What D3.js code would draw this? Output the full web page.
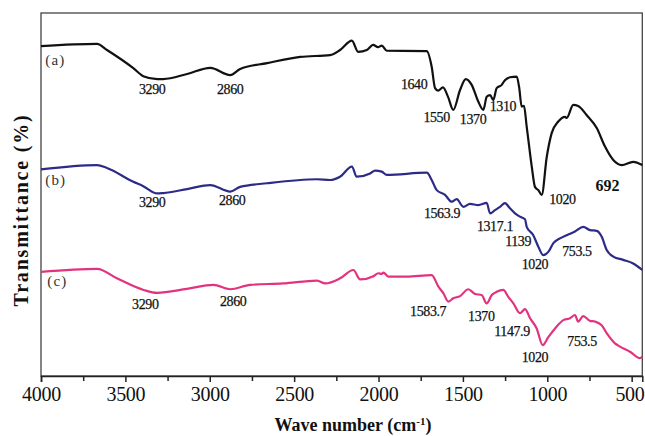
<!DOCTYPE html>
<html>
<head>
<meta charset="utf-8">
<script src="https://cdn.jsdelivr.net/npm/d3@7"></script>
<style>
  body { margin: 0; background: #fff; }
  svg { display: block; }
  .peak { font-family: "Liberation Serif", "Times New Roman", serif; font-size: 14px; fill: #111; stroke: #111; stroke-width: 0.25px; }
</style>
</head>
<body>
<svg id="chart"></svg>
<script>
// ---------------------------------
// 1) Data (read off the figure)
// ---------------------------------
const xTicks = [4000, 3500, 3000, 2500, 2000, 1500, 1000, 500];
const xMinorTicks = [3750, 3250, 2750, 2250, 1750, 1250, 750];

// wave numbers (cm-1) and transmittance (arbitrary offset, %)
const waveA = [4000, 3668, 3609, 3453, 3394, 3311, 3276, 3134, 2997, 2879, 2820, 2660, 2464, 2287, 2228, 2158, 2121, 2069, 2032, 2003, 1981, 1951, 1714, 1685, 1665, 1647, 1618, 1588, 1557, 1517, 1483, 1448, 1409, 1379, 1359, 1339, 1320, 1300, 1270, 1251, 1221, 1181, 1166, 1152, 1138, 1122, 1092, 1073, 1053, 1033, 1003, 974, 935, 895, 885, 846, 817, 767, 707, 658, 609, 559, 491, 437];
const transA = [90.9, 91.5, 89.8, 84.8, 82.6, 81.8, 81.8, 83.2, 84.9, 82.9, 84.6, 86.2, 87.9, 88.4, 89.8, 92.4, 89.3, 89.8, 91.2, 90.6, 91.0, 89.6, 89.5, 85.2, 79.3, 78.6, 79.5, 76.9, 73.3, 78.8, 81.8, 80.2, 75.6, 73.3, 76.9, 77.4, 76.0, 79.3, 80.2, 81.5, 82.3, 82.5, 79.3, 74.2, 74.4, 68.7, 57.7, 52.1, 51.2, 49.9, 60.4, 66.9, 70.1, 71.4, 71.1, 74.7, 74.4, 71.9, 68.3, 63.2, 59.5, 58.1, 59.0, 58.1];

const waveB = [4000, 3668, 3609, 3453, 3394, 3311, 3276, 3134, 2997, 2879, 2820, 2660, 2365, 2287, 2228, 2158, 2129, 2050, 2020, 1981, 1951, 1714, 1685, 1655, 1606, 1566, 1537, 1497, 1458, 1409, 1359, 1339, 1310, 1280, 1251, 1221, 1191, 1162, 1132, 1122, 1083, 1053, 1024, 994, 964, 925, 885, 836, 787, 747, 707, 678, 648, 609, 550, 491, 437];
const transB = [56.9, 58.1, 57.3, 53.5, 52.3, 50.3, 50.4, 51.5, 52.6, 50.8, 52.1, 53.1, 54.2, 54.0, 54.9, 57.7, 54.9, 55.8, 56.6, 56.3, 55.4, 56.0, 54.0, 51.2, 49.9, 48.0, 48.7, 46.6, 47.4, 47.1, 47.7, 44.8, 45.7, 46.6, 47.6, 46.2, 44.8, 43.9, 43.2, 41.1, 38.8, 35.6, 33.3, 34.2, 36.6, 37.9, 38.8, 39.8, 41.1, 40.2, 40.0, 38.4, 34.7, 32.9, 32.0, 31.0, 29.2];

const waveC = [4000, 3668, 3550, 3392, 3313, 3135, 2978, 2879, 2761, 2565, 2365, 2316, 2228, 2149, 2109, 2030, 2001, 1981, 1971, 1942, 1833, 1685, 1645, 1616, 1586, 1557, 1517, 1468, 1428, 1389, 1359, 1329, 1300, 1261, 1231, 1201, 1162, 1132, 1102, 1063, 1027, 994, 954, 905, 865, 836, 817, 787, 747, 717, 678, 648, 599, 569, 510, 451, 437];
const transC = [28.7, 29.5, 26.9, 23.7, 22.9, 24.0, 25.1, 23.9, 25.1, 25.5, 26.3, 25.5, 26.9, 29.2, 26.6, 27.5, 28.3, 28.1, 28.5, 27.4, 27.4, 27.8, 24.6, 22.8, 20.5, 21.4, 22.0, 23.9, 22.6, 22.3, 20.0, 22.3, 23.2, 23.7, 21.8, 20.0, 17.3, 18.4, 15.9, 13.1, 8.5, 10.7, 13.1, 15.4, 15.9, 16.8, 15.0, 16.5, 15.2, 15.0, 14.0, 11.8, 9.0, 8.1, 6.7, 4.9, 5.3];

const seriesNames = ["(a)", "(b)", "(c)"];
const seriesColors = ["#111111", "#2c2b88", "#e2337f"];

// peak labels: [text, wave number, transmittance]
const peaksA = [["3290", 3341, 77.7], ["2860", 2879, 77.7], ["1640", 1789, 79.1], ["1550", 1656, 70.0], ["1370", 1440, 69.4], ["1310", 1263, 73.0], ["1020", 910, 47.4]];
const peaksB = [["3290", 3341, 46.6], ["2860", 2867, 47.1], ["1563.9", 1624, 43.5], ["1317.1", 1310, 39.9], ["1139", 1173, 35.8], ["1020", 1073, 29.5], ["753.5", 824, 33.1]];
const peaksC = [["3290", 3382, 18.5], ["2860", 2861, 19.3], ["1583.7", 1706, 16.5], ["1370", 1391, 15.2], ["1147.9", 1209, 11.0], ["1020", 1073, 3.9], ["753.5", 794, 8.3]];
const seriesLabelPos = [[3975, 85.7], [3975, 52.6], [3963, 24.8]];

// ---------------------------------
// 2) Setup
// ---------------------------------
const width = 645, height = 436;
const margin = { left: 41, right: 2.7, top: 13, bottom: 60 };

const svg = d3.select("#chart").attr("width", width).attr("height", height);

const x = d3.scaleLinear().domain([4000, 437]).range([margin.left, width - margin.right]);
const y = d3.scaleLinear().domain([0, 100]).range([height - margin.bottom, height - margin.bottom - 363]);

const plotBottom = height - margin.bottom;

// frame
svg.append("rect")
  .attr("x", margin.left)
  .attr("y", margin.top)
  .attr("width", x.range()[1] - margin.left)
  .attr("height", plotBottom - margin.top)
  .attr("fill", "none")
  .attr("stroke", "#444")
  .attr("stroke-width", 1.3);

// x axis
const xAxis = svg.append("g")
  .attr("transform", `translate(0,${plotBottom})`)
  .call(d3.axisBottom(x).tickValues(xTicks).tickSize(6).tickFormat(d3.format("d")));
xAxis.select(".domain").attr("stroke", "#222").attr("stroke-width", 1.5);
xAxis.selectAll(".tick line").attr("stroke", "#222").attr("stroke-width", 1.5);
xAxis.selectAll(".tick text")
  .attr("y", 25).attr("dy", 0)
  .style("font-family", "'Liberation Serif', 'Times New Roman', serif")
  .style("font-size", "20px")
  .style("letter-spacing", "-0.3px")
  .attr("fill", "#111");
// last label sits against the right border
xAxis.selectAll(".tick text").filter(d => d === 500)
  .attr("text-anchor", "end")
  .attr("x", (width - 1) - x(500));

svg.append("g")
  .attr("transform", `translate(0,${plotBottom})`)
  .call(d3.axisBottom(x).tickValues(xMinorTicks).tickSize(5).tickFormat(""))
  .call(g => g.select(".domain").remove())
  .selectAll(".tick line").attr("stroke", "#222").attr("stroke-width", 1.5);

// axis titles
const title = svg.append("text")
  .attr("x", 353).attr("y", 431)
  .attr("text-anchor", "middle")
  .style("font-family", "'Liberation Serif', 'Times New Roman', serif")
  .style("font-size", "18px")
  .style("font-weight", "bold")
  .attr("fill", "#111");
title.append("tspan").text("Wave number (cm");
title.append("tspan").attr("dy", -6).style("font-size", "11px").text("-1");
title.append("tspan").attr("dy", 6).text(")");

svg.append("text")
  .attr("transform", "translate(28,210) rotate(-90)")
  .attr("text-anchor", "middle")
  .style("font-family", "'Liberation Serif', 'Times New Roman', serif")
  .style("font-size", "20px")
  .style("font-weight", "bold")
  .style("letter-spacing", "1.8px")
  .attr("fill", "#111")
  .text("Transmittance (%)");

// ---------------------------------
// 3) Curves
// ---------------------------------
const line = d3.line().x(d => x(d[0])).y(d => y(d[1])).curve(d3.curveMonotoneX);

const series = [
  d3.zip(waveA, transA),
  d3.zip(waveB, transB),
  d3.zip(waveC, transC)
];

series.forEach((pts, i) => {
  svg.append("path")
    .datum(pts)
    .attr("fill", "none")
    .attr("stroke", seriesColors[i])
    .attr("stroke-width", 2.2)
    .attr("stroke-linejoin", "round")
    .attr("d", line);
});

// ---------------------------------
// 4) Labels
// ---------------------------------
seriesNames.forEach((name, i) => {
  svg.append("text")
    .attr("x", x(seriesLabelPos[i][0]))
    .attr("y", y(seriesLabelPos[i][1]))
    .style("font-family", "'Liberation Serif', 'Times New Roman', serif")
    .style("font-size", "15px")
    .style("letter-spacing", "1.2px")
    .attr("fill", "#333")
    .text(name);
});

[peaksA, peaksB, peaksC].forEach(peaks => {
  svg.selectAll(null)
    .data(peaks)
    .enter()
    .append("text")
    .attr("class", "peak")
    .attr("x", d => x(d[1]))
    .attr("y", d => y(d[2]))
    .attr("text-anchor", "middle")
    .style("letter-spacing", "-0.4px")
    .text(d => d[0]);
});

// the 692 band is marked bold in the figure
svg.append("text")
  .attr("x", x(643)).attr("y", y(51.0))
  .attr("text-anchor", "middle")
  .style("font-family", "'Liberation Serif', 'Times New Roman', serif")
  .style("font-size", "16px")
  .style("font-weight", "bold")
  .attr("fill", "#111")
  .text("692");
</script>
</body>
</html>
